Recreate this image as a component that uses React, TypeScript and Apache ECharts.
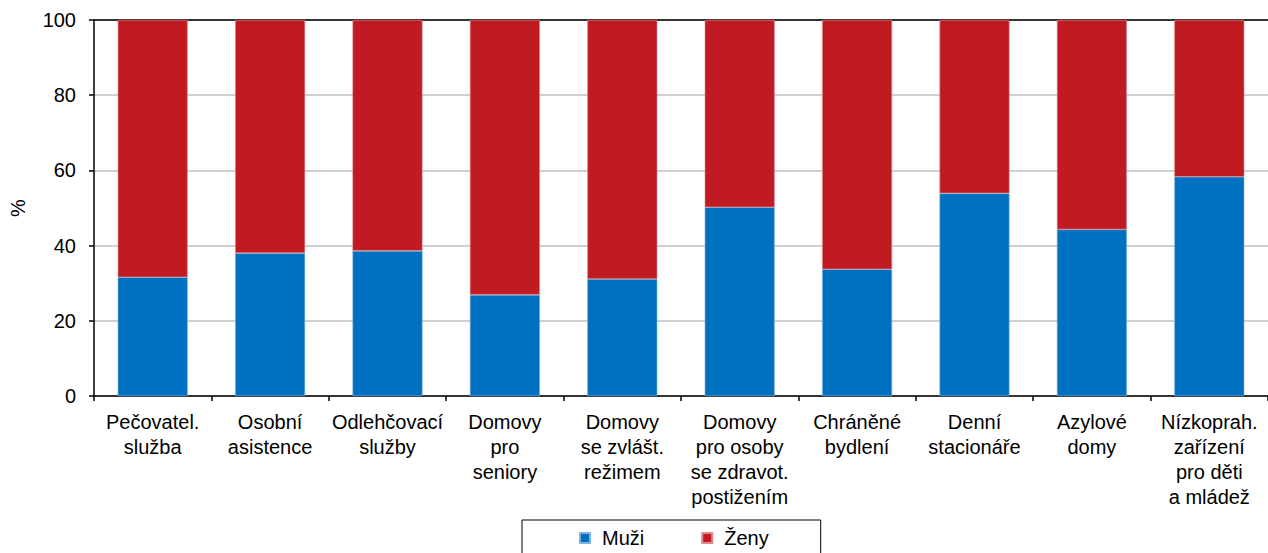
import React, { useEffect, useRef } from "react";
import * as echarts from "echarts";

const categories = [
  "Pečovatel.\nslužba",
  "Osobní\nasistence",
  "Odlehčovací\nslužby",
  "Domovy\npro\nseniory",
  "Domovy\nse zvlášt.\nrežimem",
  "Domovy\npro osoby\nse zdravot.\npostižením",
  "Chráněné\nbydlení",
  "Denní\nstacionáře",
  "Azylové\ndomy",
  "Nízkoprah.\nzařízení\npro děti\na mládež",
];
const muzi = [31.6, 38.0, 38.6, 26.9, 31.1, 50.2, 33.7, 53.9, 44.3, 58.3];
const zeny = muzi.map((v) => +(100 - v).toFixed(1));
const yTicks = { min: 0, max: 100, interval: 20 };

const FONT = "'Liberation Sans', Arial, sans-serif";
const FS = 20;

export default function App() {
  const ref = useRef<HTMLDivElement>(null);
  useEffect(() => {
    const chart = echarts.init(ref.current!, null, { renderer: "svg" });
    chart.setOption({
      animation: false,
      textStyle: { fontFamily: FONT, color: "#000" },
      grid: { left: 91.5, top: 20, bottom: 157, right: -3.5, containLabel: false },
      legend: {
        left: 522,
        top: 520,
        padding: [8, 52, 10, 57],
        borderColor: "#000",
        borderWidth: 1,
        itemWidth: 10,
        itemHeight: 10,
        itemGap: 57,
        icon: "rect",
        textStyle: { fontSize: FS, fontFamily: FONT, color: "#000", padding: [0, 0, 0, 7] },
        data: ["Muži", "Ženy"],
      },
      xAxis: [
        {
          type: "category",
          data: categories,
          boundaryGap: true,
          axisLine: { lineStyle: { color: "#000", width: 1.5 } },
          axisTick: { show: true, interval: 0, length: 5, lineStyle: { color: "#000", width: 1.5 } },
          axisLabel: {
            interval: 0,
            fontSize: FS,
            lineHeight: 25,
            margin: 13,
            color: "#000",
            fontFamily: FONT,
          },
        },
        {
          type: "category",
          position: "top",
          data: categories,
          axisLine: { show: true, lineStyle: { color: "#000", width: 1.5 } },
          axisTick: { show: false },
          axisLabel: { show: false },
        },
      ],
      yAxis: {
        type: "value",
        min: yTicks.min,
        max: yTicks.max,
        interval: yTicks.interval,
        name: "%",
        nameLocation: "middle",
        nameGap: 66,
        nameRotate: 90,
        nameTextStyle: { fontSize: FS, fontFamily: FONT, color: "#000" },
        axisLine: { show: true, lineStyle: { color: "#000", width: 1.5 } },
        axisTick: { show: true, length: 5, lineStyle: { color: "#000", width: 1.5 } },
        axisLabel: { fontSize: FS, margin: 18, color: "#000", fontFamily: FONT },
        splitLine: { show: true, lineStyle: { color: "#c0c0c0", width: 1.5 } },
      },
      series: [
        {
          name: "Muži",
          type: "bar",
          stack: "a",
          data: muzi,
          barWidth: 70,
          itemStyle: { color: "#0070C0", borderColor: "#7fb4df", borderWidth: 0.6 },
        },
        {
          name: "Ženy",
          type: "bar",
          stack: "a",
          data: zeny,
          barWidth: 70,
          itemStyle: { color: "#C01B22", borderColor: "#e08a8e", borderWidth: 0.6 },
        },
      ],
    });
    return () => chart.dispose();
  }, []);
  return <div ref={ref} style={{ width: 1268, height: 553, position: "absolute", left: 0, top: 0 }} />;
}
